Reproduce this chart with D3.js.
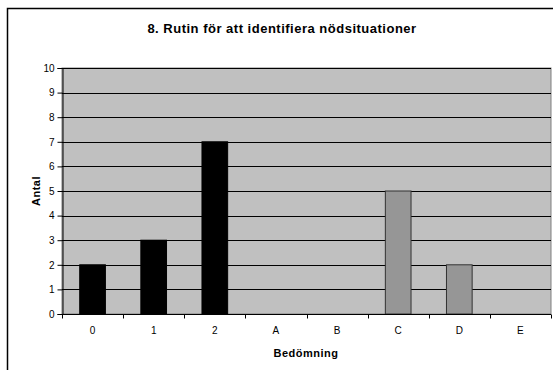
<!DOCTYPE html>
<html>
<head>
<meta charset="utf-8">
<script src="https://cdn.jsdelivr.net/npm/d3@7"></script>
<style>
  html, body { margin: 0; padding: 0; background: #fff; }
  svg { display: block; font-family: "Liberation Sans", Arial, sans-serif; }
</style>
</head>
<body>
<svg id="chart" width="553" height="370"></svg>
<script>
// Chart data
const title = "8. Rutin för att identifiera nödsituationer";
const categories = ["0", "1", "2", "A", "B", "C", "D", "E"];
const counts = [2, 3, 7, 0, 0, 5, 2, 0];
const yTicks = [0, 1, 2, 3, 4, 5, 6, 7, 8, 9, 10];
const xLabel = "Bedömning";
const yLabel = "Antal";
// Numeric grades are drawn black, letter grades gray
const barFills = ["#000000", "#000000", "#000000", "#969696", "#969696", "#969696", "#969696", "#969696"];
const barStrokes = ["#000000", "#000000", "#000000", "#333333", "#333333", "#333333", "#333333", "#333333"];

const svg = d3.select("#chart");
const plot = { left: 62, right: 551, top: 68, bottom: 314 };

// Outer frame (continues past the right and bottom edges)
svg.append("path")
  .attr("d", "M7.5,372 L7.5,8.5 L560,8.5")
  .attr("fill", "none").attr("stroke", "#000").attr("stroke-width", 1.5);

svg.append("text")
  .attr("x", 282).attr("y", 33)
  .attr("text-anchor", "middle")
  .attr("font-size", 13).attr("font-weight", "bold")
  .attr("letter-spacing", 0.5)
  .text(title);

const x = d3.scaleBand().domain(categories).range([plot.left, plot.right]).paddingInner(0).paddingOuter(0);
const y = d3.scaleLinear().domain([0, 10]).range([plot.bottom, plot.top]);

// Plot background
svg.append("rect")
  .attr("x", plot.left).attr("y", plot.top)
  .attr("width", plot.right - plot.left).attr("height", plot.bottom - plot.top)
  .attr("fill", "#c0c0c0").attr("stroke", "#808080").attr("stroke-width", 1);

// Horizontal gridlines
svg.append("g").selectAll("line")
  .data(yTicks.filter(d => d > 0))
  .join("line")
  .attr("x1", plot.left).attr("x2", plot.right)
  .attr("y1", d => Math.round(y(d)) + 0.5).attr("y2", d => Math.round(y(d)) + 0.5)
  .attr("stroke", "#000").attr("stroke-width", 1);

// Bars
const barW = x.bandwidth() * 0.42;
svg.append("g").selectAll("rect")
  .data(categories.map((c, i) => ({ c, v: counts[i], i })).filter(d => d.v > 0))
  .join("rect")
  .attr("x", d => x(d.c) + (x.bandwidth() - barW) / 2)
  .attr("y", d => y(d.v))
  .attr("width", barW)
  .attr("height", d => y(0) - y(d.v))
  .attr("fill", d => barFills[d.i])
  .attr("stroke", d => barStrokes[d.i]).attr("stroke-width", 1);

// Y axis
const yAxis = d3.axisLeft(y).tickValues(yTicks).tickFormat(d3.format("d")).tickSize(5).tickPadding(3);
const gy = svg.append("g").attr("transform", `translate(${plot.left + 0.5},0)`).call(yAxis);
gy.select(".domain").attr("stroke", "#000");
gy.selectAll(".tick line").attr("stroke", "#000");
gy.selectAll(".tick text").attr("font-size", 10).attr("fill", "#000")
  .attr("font-family", "Liberation Sans, Arial, sans-serif");

// X axis with ticks at category boundaries
const gx = svg.append("g").attr("transform", `translate(0,${plot.bottom + 0.5})`);
gx.append("line").attr("x1", plot.left).attr("x2", plot.right).attr("stroke", "#000");
const bounds = categories.map(c => x(c)).concat([plot.right]);
gx.selectAll("line.tk").data(bounds).join("line").attr("class", "tk")
  .attr("x1", d => Math.round(d) + 0.5).attr("x2", d => Math.round(d) + 0.5)
  .attr("y1", 0).attr("y2", 4).attr("stroke", "#000");
gx.selectAll("text").data(categories).join("text")
  .attr("x", d => x(d) + x.bandwidth() / 2)
  .attr("y", 19)
  .attr("text-anchor", "middle")
  .attr("font-size", 10)
  .text(d => d);

// Axis titles
svg.append("text")
  .attr("x", 306).attr("y", 357)
  .attr("text-anchor", "middle")
  .attr("font-size", 11).attr("font-weight", "bold")
  .attr("letter-spacing", 0.5)
  .text(xLabel);
svg.append("text")
  .attr("transform", `translate(40,${(plot.top + plot.bottom) / 2}) rotate(-90)`)
  .attr("text-anchor", "middle")
  .attr("font-size", 11).attr("font-weight", "bold")
  .attr("letter-spacing", 0.5)
  .text(yLabel);
</script>
</body>
</html>
